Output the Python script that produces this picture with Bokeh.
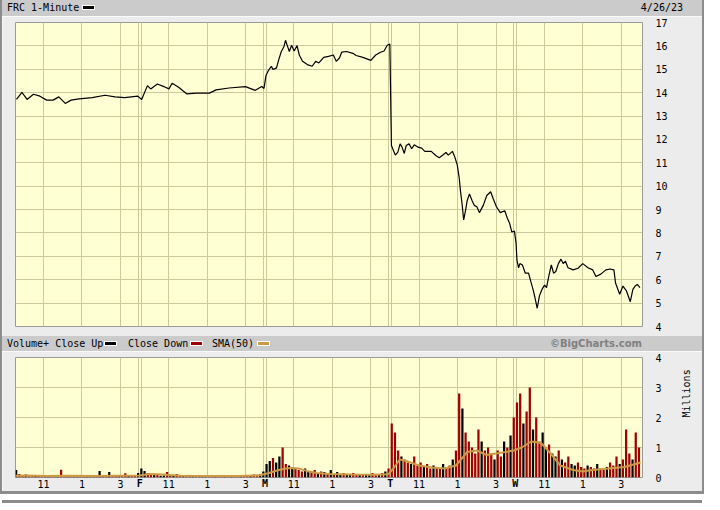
import math
from bokeh.plotting import figure
from bokeh.models import Range1d, FixedTicker, Grid, Div, LinearAxis
from bokeh.layouts import column, row
from bokeh.embed import file_html
from bokeh.resources import INLINE

# ---------------- data ----------------
DAY_LEN = 390                      # trading minutes per session
day_letters = ["", "F", "M", "T", "W"]
tick_offsets = [90, 210, 330]      # 11:00, 13:00, 15:00
tick_labels = ["11", "1", "3"]
price_ticks = list(range(4, 18))
vol_ticks = [0, 1, 2, 3, 4]

# price (minutes since session open, last price)
thu_min = [6, 23, 39, 59, 79, 100, 120, 138, 158, 176, 201, 242, 282, 313, 343, 384]
thu_px = [13.71, 14.01, 13.71, 13.93, 13.85, 13.68, 13.68, 13.82, 13.54, 13.68, 13.73, 13.79, 13.89, 13.82, 13.79, 13.85]
fri_min = [6, 24, 34, 55, 75, 91, 101, 121, 146, 177, 217, 238, 278, 329, 360, 380, 387]
fri_px = [13.71, 14.30, 14.16, 14.37, 14.26, 14.16, 14.40, 14.23, 13.95, 13.98, 13.98, 14.12, 14.20, 14.26, 14.10, 14.26, 14.18]
mon_min = [3, 10, 20, 25, 36, 43, 51, 59, 64, 71, 76, 83, 91, 100, 107, 117, 132, 147, 158, 168,
           183, 198, 213, 222, 232, 239, 254, 274, 284, 305, 330, 345, 360, 371, 381, 389]
mon_px = [14.72, 14.93, 15.13, 14.99, 15.06, 15.41, 15.76, 15.96, 16.24, 15.96, 15.76, 16.03, 15.78, 16.01, 15.61, 15.34, 15.20, 15.13, 15.34, 15.27,
          15.51, 15.55, 15.61, 15.34, 15.48, 15.73, 15.76, 15.68, 15.59, 15.51, 15.38, 15.61, 15.73, 15.78, 16.03, 16.08]
tue_min = [4, 8, 16, 24, 31, 37, 44, 50, 59, 67, 75, 87, 98, 108, 128, 143, 153, 164, 174, 181,
           194, 201, 209, 215, 219, 224, 229, 235, 240, 247, 255, 262, 270, 278, 290, 301, 313, 321, 331, 343,
           357, 365, 372, 379, 387]
tue_px = [11.74, 11.60, 11.33, 11.46, 11.81, 11.67, 11.40, 11.74, 11.81, 11.60, 11.77, 11.67, 11.63, 11.49, 11.49, 11.30, 11.22, 11.33, 11.44, 11.33,
          11.49, 11.26, 10.91, 10.36, 9.80, 9.25, 8.56, 8.98, 9.39, 9.67, 9.39, 9.18, 9.12, 8.87, 9.18, 9.60, 9.76, 9.46, 9.12, 8.87,
          8.95, 8.63, 8.42, 8.04, 8.08]
wed_min = [2, 5, 10, 14, 22, 31, 41, 48, 55, 61, 68, 75, 83, 91, 97, 104, 112, 119, 126, 134,
           142, 149, 156, 164, 180, 195, 210, 226, 241, 251, 266, 282, 295, 307, 312, 325, 335, 346, 358, 366,
           373, 380, 388]
wed_px = [7.59, 6.83, 6.51, 6.69, 6.63, 6.28, 6.28, 5.93, 5.59, 5.24, 4.78, 5.31, 5.59, 5.77, 5.66, 6.14, 6.63, 6.28, 6.35, 6.69,
          6.88, 6.69, 6.79, 6.51, 6.42, 6.49, 6.69, 6.51, 6.42, 6.14, 6.24, 6.42, 6.46, 6.42, 5.86, 5.38, 5.73, 5.52, 5.06, 5.59,
          5.73, 5.80, 5.66]

# volume, millions, 10-minute bins (39 per session); flags: u = close up, d = close down
thu_vol = [0.25, 0.12, 0.08, 0.10, 0.06, 0.07, 0.05, 0.06, 0.05, 0.08, 0.05, 0.04, 0.05, 0.07, 0.26, 0.05, 0.04, 0.04, 0.05, 0.06,
           0.04, 0.05, 0.04, 0.05, 0.06, 0.05, 0.22, 0.06, 0.05, 0.18, 0.06, 0.05, 0.04, 0.05, 0.14, 0.06, 0.07, 0.08, 0.15]
fri_vol = [0.30, 0.22, 0.15, 0.10, 0.08, 0.12, 0.06, 0.07, 0.18, 0.06, 0.05, 0.12, 0.06, 0.05, 0.04, 0.05, 0.06, 0.04, 0.05, 0.04,
           0.05, 0.06, 0.04, 0.05, 0.05, 0.04, 0.06, 0.05, 0.04, 0.06, 0.05, 0.08, 0.06, 0.05, 0.07, 0.10, 0.09, 0.12, 0.20]
mon_vol = [0.45, 0.55, 0.65, 0.50, 0.70, 1.00, 0.45, 0.40, 0.35, 0.30, 0.25, 0.20, 0.30, 0.22, 0.18, 0.25, 0.15, 0.20, 0.18, 0.15,
           0.25, 0.12, 0.18, 0.10, 0.15, 0.12, 0.10, 0.15, 0.12, 0.10, 0.08, 0.12, 0.10, 0.15, 0.08, 0.12, 0.15, 0.20, 0.30]
tue_vol = [1.80, 1.50, 0.90, 0.70, 0.60, 0.50, 0.45, 0.70, 0.40, 0.50, 0.35, 0.45, 0.30, 0.40, 0.35, 0.30, 0.45, 0.35, 0.40, 0.60,
           0.90, 2.80, 2.30, 1.50, 1.20, 1.00, 0.80, 1.60, 1.20, 0.90, 1.00, 0.80, 0.60, 0.90, 0.70, 1.20, 1.00, 1.40, 2.00]
wed_vol = [2.50, 2.80, 1.80, 2.20, 3.00, 1.60, 2.00, 1.20, 1.50, 1.00, 1.10, 0.80, 0.70, 0.90, 0.60, 0.50, 0.70, 0.45, 0.40, 0.50,
           0.35, 0.30, 0.40, 0.35, 0.30, 0.45, 0.30, 0.25, 0.35, 0.50, 0.40, 0.70, 0.45, 0.60, 1.60, 0.80, 0.60, 1.50, 1.00]
thu_dir = "uddudduddu" + "uddudduduu" + "dduudduddu" + "ddudduddu"
fri_dir = "uudduduudd" + "uddudduddu" + "udduddudud" + "duddudduu"
mon_dir = "uuduudduud" + "dduuddudud" + "uduuduuddu" + "duuddudud"
tue_dir = "dddudduddd" + "uddudduddu" + "ddudddddud" + "dduddudud"
wed_dir = "dduddudduu" + "duududduud" + "ddudduddud" + "ddudddudd"
BIN = 10

# SMA(50) of volume (minutes since first open, millions)
sma_min = [0, 40, 100, 160, 250, 320, 390, 420, 460, 520, 600, 700, 760,
           790, 820, 845, 862, 885, 910, 940, 980, 1050, 1120, 1165,
           1180, 1200, 1220, 1260, 1300, 1340, 1375, 1410, 1440, 1470, 1500, 1530, 1555,
           1580, 1610, 1640, 1670, 1700, 1740, 1770, 1800, 1850, 1900, 1950]
sma_val = [0.06, 0.07, 0.05, 0.06, 0.05, 0.06, 0.07, 0.12, 0.10, 0.06, 0.05, 0.05, 0.07,
           0.14, 0.24, 0.30, 0.32, 0.30, 0.22, 0.15, 0.12, 0.10, 0.09, 0.11,
           0.30, 0.60, 0.55, 0.40, 0.33, 0.30, 0.40, 0.85, 0.90, 0.75, 0.80, 0.85, 0.90,
           1.00, 1.20, 1.15, 0.80, 0.40, 0.25, 0.20, 0.25, 0.30, 0.35, 0.50]

# ---------------- assemble ----------------
price_days = [(thu_min, thu_px), (fri_min, fri_px), (mon_min, mon_px), (tue_min, tue_px), (wed_min, wed_px)]
vol_days = [(thu_vol, thu_dir), (fri_vol, fri_dir), (mon_vol, mon_dir), (tue_vol, tue_dir), (wed_vol, wed_dir)]

px_t, px_v = [], []
for d, (mins, vals) in enumerate(price_days):
    assert len(mins) == len(vals)
    px_t += [d * DAY_LEN + m for m in mins]
    px_v += vals

UP, DOWN, SMA_C = "#000000", "#a00000", "#cc9944"
vb_x, vb_top, vb_col = [], [], []
for d, (vols, dirs) in enumerate(vol_days):
    assert len(vols) == len(dirs) == DAY_LEN // BIN
    for i, (v, f) in enumerate(zip(vols, dirs)):
        vb_x.append(d * DAY_LEN + i * BIN + BIN / 2)
        vb_top.append(v)
        vb_col.append(UP if f == "u" else DOWN)
assert len(sma_min) == len(sma_val)

time_ticks, time_over = [], {}
for d in range(len(day_letters)):
    for off, lab in zip(tick_offsets, tick_labels):
        t = d * DAY_LEN + off
        time_ticks.append(t)
        time_over[t] = lab
day_ticks, day_over = [], {}
for d, let in enumerate(day_letters):
    if let:
        day_ticks.append(d * DAY_LEN)
        day_over[d * DAY_LEN] = let
div_ticks = []
for t in day_ticks:
    div_ticks += [t - 4.5, t + 4.5]

# ---------------- styling ----------------
FONT = "DejaVu Sans Mono"
BG = "#ececec"
BAR = "#cbcbcb"
EDGE = "#8c8c8c"
PLOT_BG = "#ffffd4"
GRID_C = "#c9c99a"
W = 700            # inner width (2px dark edge on each side)
H = 494
ML, MR = 13, 60

x_range = Range1d(3, 1956)


def panel(height, y_range, mbt, mbb, x_axis):
    p = figure(width=W, height=height, x_range=x_range, y_range=y_range,
               output_backend="svg", toolbar_location=None,
               x_axis_location=x_axis, y_axis_location="right",
               min_border_left=ML, min_border_right=MR,
               min_border_top=mbt, min_border_bottom=mbb,
               background_fill_color=PLOT_BG, border_fill_color=BG,
               outline_line_color="#9a9a9a")
    p.center = [r for r in p.center if not isinstance(r, Grid)]
    return p


def style_y(p, ticks):
    ax = p.yaxis[0]
    ax.ticker = FixedTicker(ticks=ticks)
    ax.major_tick_line_color = None
    ax.minor_tick_line_color = None
    ax.axis_line_color = None
    ax.major_label_text_font = FONT
    ax.major_label_text_font_size = "10px"
    ax.major_label_text_color = "black"
    ax.major_label_standoff = 7


def add_grids(p, hticks):
    p.add_layout(Grid(dimension=0, ticker=FixedTicker(ticks=time_ticks + div_ticks),
                      grid_line_color=GRID_C, grid_line_width=1))
    p.add_layout(Grid(dimension=1, ticker=FixedTicker(ticks=hticks),
                      grid_line_color=GRID_C, grid_line_width=1))


def span(txt, left=None, right=None, top=3, extra=""):
    pos = f"left:{left}px;" if left is not None else f"right:{right}px;"
    return (f'<span style="position:absolute;{pos}top:{top}px;line-height:10px;'
            f'white-space:nowrap;{extra}">{txt}</span>')


def swatch(left, top, color):
    return (f'<span style="position:absolute;display:block;left:{left}px;top:{top}px;width:11px;height:3px;'
            f'background-color:{color};box-shadow:0 0 0 1px #ffffff;"></span>')


def bar_div(height, inner):
    html = (f'<div style="position:relative;width:{W}px;height:{height}px;background:{BAR};'
            f'font-family:\'{FONT}\';font-size:10px;color:#000;overflow:hidden;">{inner}</div>')
    return Div(text=html, width=W, height=height, margin=0,
               styles={"background-color": BAR})


# header 1
h1 = bar_div(16, span("FRC 1-Minute", left=5) + swatch(81, 6, UP) +
             span("4/26/23", right=19))

# price panel
p1 = panel(320, Range1d(4, 17), 6, 10, None)
style_y(p1, price_ticks)
add_grids(p1, list(range(5, 17)))
p1.line(px_t, px_v, line_color="black", line_width=1.2)

# header 2
h2 = bar_div(15,
             span("Volume+ Close Up", left=5) + swatch(103, 6, UP) +
             span("Close Down", left=126) + swatch(189, 6, DOWN) +
             span("SMA(50)", left=210) + swatch(256, 6, SMA_C) +
             span("\u00a9BigCharts.com", right=60,
                  extra="font-family:'DejaVu Sans';font-weight:bold;color:#808080;"))

# volume panel
p2 = panel(140, Range1d(0, 4), 6, 14, "below")
style_y(p2, vol_ticks)
add_grids(p2, [1, 2, 3])
ya = p2.yaxis[0]
ya.axis_label = "Millions"
ya.axis_label_text_font = FONT
ya.axis_label_text_font_size = "10px"
ya.axis_label_text_font_style = "normal"
ya.axis_label_text_color = "black"
ya.axis_label_standoff = 22
if hasattr(ya, "axis_label_orientation"):
    ya.axis_label_orientation = math.pi / 2

xa = p2.xaxis[0]
xa.ticker = FixedTicker(ticks=time_ticks)
xa.major_label_overrides = time_over
xa.major_tick_line_color = None
xa.minor_tick_line_color = None
xa.axis_line_color = None
xa.major_label_text_font = FONT
xa.major_label_text_font_size = "10px"
xa.major_label_text_color = "black"
xa.major_label_standoff = -4

xd = LinearAxis(ticker=FixedTicker(ticks=day_ticks), major_label_overrides=day_over,
                major_tick_line_color=None, minor_tick_line_color=None, axis_line_color=None,
                major_label_text_font=FONT, major_label_text_font_size="10px",
                major_label_text_font_style="bold", major_label_text_color="black",
                major_label_standoff=-19)
p2.add_layout(xd, "below")

p2.vbar(x=vb_x, top=vb_top, width=BIN * 0.7, fill_color=vb_col, line_color=None)
p2.line(sma_min, sma_val, line_color=SMA_C, line_width=2)

band = Div(text=f'<div style="width:{W}px;height:3px;background:{EDGE};"></div>',
           width=W, height=3, margin=0, styles={"background-color": EDGE})


def edge():
    return Div(text=f'<div style="width:2px;height:{H}px;background:{EDGE};"></div>',
               width=2, height=H, margin=0, styles={"background-color": EDGE})


inner = column(h1, p1, h2, p2, band, spacing=0)
layout = row(edge(), inner, edge(), spacing=0)
open("out.html", "w").write(file_html(layout, INLINE))
